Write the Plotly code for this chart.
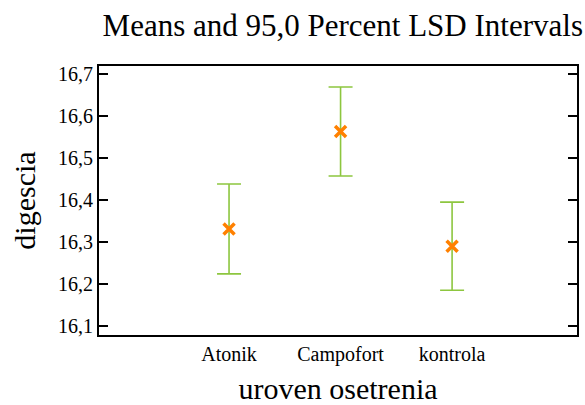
import plotly.graph_objects as go

categories = ["Atonik", "Campofort", "kontrola"]
means = [16.331, 16.563, 16.290]
lsd_half = [0.107, 0.106, 0.105]
y_ticks = [16.1, 16.2, 16.3, 16.4, 16.5, 16.6, 16.7]

FONT = "Liberation Serif"

fig = go.Figure()
fig.add_trace(go.Scatter(
    x=categories, y=means, mode="markers",
    marker=dict(symbol="x-thin-open", size=11, color="#FF8000",
                line=dict(color="#FF8000", width=3.5)),
    error_y=dict(type="data", array=lsd_half, visible=True,
                 color="#8DC63F", thickness=1.6, width=12),
    showlegend=False,
))

fig.update_layout(
    width=585, height=405,
    margin=dict(l=99, r=8, t=66, b=70),
    paper_bgcolor="white", plot_bgcolor="white",
    separators=",.",
    font=dict(family=FONT, color="black", size=20),
    title=dict(text="Means and 95,0 Percent LSD Intervals", x=0.51, xref="paper",
               y=0.938, yref="container", yanchor="middle",
               font=dict(family=FONT, size=31, color="black")),
)
fig.update_xaxes(
    type="category", range=[-1.166, 3.12], automargin=False,
    showline=True, linecolor="black", linewidth=2, mirror=True,
    showgrid=False, zeroline=False, ticks="",
    tickfont=dict(family=FONT, size=20, color="black"),
    title=dict(text="uroven osetrenia", font=dict(family=FONT, size=30), standoff=16),
)
fig.update_yaxes(
    range=[16.0786, 16.719], tickvals=y_ticks, tickformat=".1f", automargin=False,
    showline=True, linecolor="black", linewidth=2, mirror="ticks",
    ticks="inside", ticklen=9, tickwidth=2, tickcolor="black",
    showgrid=False, zeroline=False,
    tickfont=dict(family=FONT, size=20, color="black"),
    title=dict(text="digescia", font=dict(family=FONT, size=30), standoff=14),
)

fig.write_html("out.html")
